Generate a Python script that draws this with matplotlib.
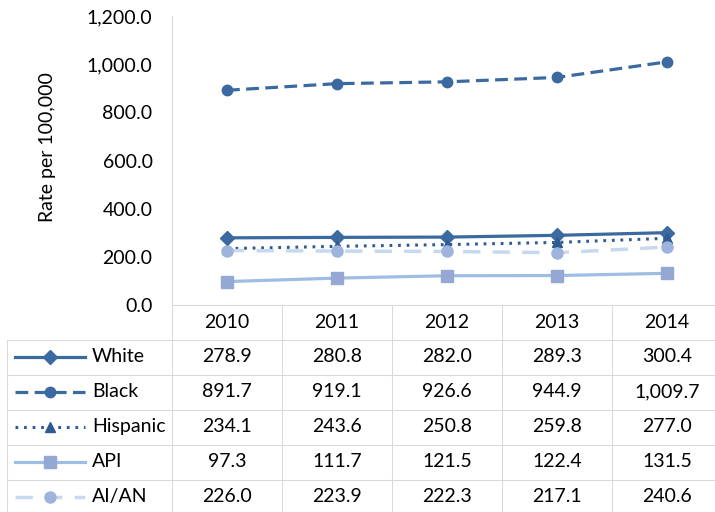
import matplotlib
matplotlib.use("Agg")
import matplotlib.pyplot as plt

years = ["2010", "2011", "2012", "2013", "2014"]
series_names = ["White", "Black", "Hispanic", "API", "AI/AN"]
white = [278.9, 280.8, 282.0, 289.3, 300.4]
black = [891.7, 919.1, 926.6, 944.9, 1009.7]
hispanic = [234.1, 243.6, 250.8, 259.8, 277.0]
api = [97.3, 111.7, 121.5, 122.4, 131.5]
aian = [226.0, 223.9, 222.3, 217.1, 240.6]
y_ticks = [0, 200, 400, 600, 800, 1000, 1200]

plt.rcParams['font.family'] = ['Lato', 'DejaVu Sans']

W, H = 715, 512
fig = plt.figure(figsize=(W / 100, H / 100), dpi=100)

# layout in pixels
x0 = 172.0
colw = 110.0
y_zero = 305.0
y_top = 16.0
row_h = 35.0
grid_c = '#d9d9d9'

dark = '#3b6aa0'
styles = [
    dict(color=dark, lw=2.3, ls='-', marker='D', ms=7, mfc=dark, mec=dark),
    dict(color=dark, lw=2.3, ls=(0, (4, 2)), marker='o', ms=7.5, mfc=dark, mec=dark),
    dict(color='#2f5b93', lw=2.2, ls=(0, (0.9, 1.9)), marker='^', ms=7, mfc='#2f5b93', mec='#2f5b93'),
    dict(color='#9dbde3', lw=2.3, ls='-', marker='s', ms=8, mfc='#95a8d4', mec='#95a8d4'),
    dict(color='#c7d9ef', lw=2.5, ls=(0, (5, 3.5)), marker='o', ms=8, mfc='#9fb4dc', mec='#9fb4dc'),
]
data = [white, black, hispanic, api, aian]

# table axes in pixel coordinates
axt = fig.add_axes([0, 0, 1, 1])
axt.set_xlim(0, W)
axt.set_ylim(H, 0)
axt.axis('off')
axt.patch.set_alpha(0)

right = x0 + colw * len(years)
lk = dict(color=grid_c, lw=0.75, solid_capstyle='butt')
axt.plot([x0, right], [y_zero - 0.5, y_zero - 0.5], **lk)
for r in range(1, 6):
    yy = y_zero + r * row_h - 0.5
    axt.plot([7, right], [yy, yy], **lk)
axt.plot([7, 7], [y_zero + row_h - 0.5, H + 5], **lk)
for c in range(0, len(years) + 1):
    xx = x0 + c * colw
    axt.plot([xx, xx], [y_zero - 0.5, H + 5], **lk)

fs = 14
for i, yr in enumerate(years):
    axt.text(x0 + (i + 0.5) * colw, y_zero + row_h / 2, yr, ha='center', va='center', fontsize=fs)
for r, (name, vals, st) in enumerate(zip(series_names, data, styles)):
    yc = y_zero + (r + 1.5) * row_h - 1
    axt.text(92, yc, name, ha='left', va='center', fontsize=fs)
    axt.plot([15, 50, 85], [yc] * 3, markevery=[1], **st)
    for i, v in enumerate(vals):
        axt.text(x0 + (i + 0.5) * colw, yc, f"{v:,.1f}", ha='center', va='center', fontsize=fs)

# main chart axes
ax = fig.add_axes([x0 / W, (H - y_zero) / H, (colw * len(years)) / W, (y_zero - y_top) / H])
ax.patch.set_alpha(0)
xs = list(range(len(years)))
for vals, st in zip(data, styles):
    ax.plot(xs, vals, clip_on=False, **st)
ax.set_xlim(-0.5, len(years) - 0.5)
ax.set_ylim(0, 1200)
ax.set_yticks(y_ticks)
ax.set_yticklabels([f"{t:,.1f}" for t in y_ticks], fontsize=fs)
ax.tick_params(axis='y', length=0, pad=14)
ax.set_xticks([])
for s in ['top', 'right', 'bottom']:
    ax.spines[s].set_visible(False)
ax.spines['left'].set_color(grid_c)
ax.spines['left'].set_linewidth(0.75)

fig.text(48 / W, 1 - 147 / H, "Rate per 100,000", rotation=90, ha='center', va='center', fontsize=fs)

fig.savefig("out.png", dpi=100)
